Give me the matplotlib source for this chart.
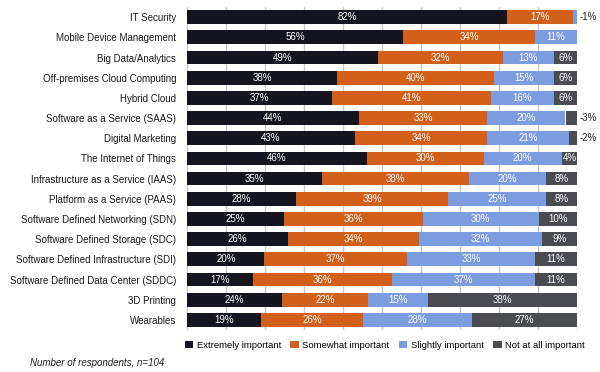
import numpy as np
import matplotlib.pyplot as plt

plt.rcParams['font.family'] = ['Liberation Sans', 'DejaVu Sans']

# Datos
categorias = ["IT Security", "Mobile Device Management", "Big Data/Analytics",
              "Off-premises Cloud Computing", "Hybrid Cloud", "Software as a Service (SAAS)",
              "Digital Marketing", "The Internet of Things", "Infrastructure as a Service (IAAS)",
              "Platform as a Service (PAAS)", "Software Defined Networking (SDN)",
              "Software Defined Storage (SDC)", "Software Defined Infrastructure (SDI)",
              "Software Defined Data Center (SDDC)", "3D Printing", "Wearables"]
extremo = [82, 56, 49, 38, 37, 44, 43, 46, 35, 28, 25, 26, 20, 17, 24, 19]
algo = [17, 34, 32, 40, 41, 33, 34, 30, 38, 39, 36, 34, 37, 36, 22, 26]
poco = [1, 11, 13, 15, 16, 20, 21, 20, 20, 25, 30, 32, 33, 37, 15, 28]
nada = [0, 0, 6, 6, 6, 3, 2, 4, 8, 8, 10, 9, 11, 11, 38, 27]
series = ["Extremely important", "Somewhat important", "Slightly important", "Not at all important"]
colores = ["#15151f", "#d2601a", "#7b9de0", "#4a4c52"]

datos = np.array([extremo, algo, poco, nada], dtype=float)
total = datos.sum(axis=0)
anchos = datos / total * 100  # las barras llegan al 100%

fig = plt.figure(figsize=(6, 3.72), dpi=100)
ax = fig.add_axes([0.312, 0.113, 0.65, 0.868])

y = np.arange(len(categorias))
izq = np.zeros(len(categorias))
for i in range(4):
    ax.barh(y, anchos[i], left=izq, height=0.68, color=colores[i], label=series[i], zorder=2)
    for j in range(len(categorias)):
        v = datos[i, j]
        if v == 0:
            continue
        if v <= 3:
            ax.text(100.5, y[j], "-%d%%" % v, va='center', ha='left', fontsize=7,
                    color='#222222', clip_on=False)
        else:
            ax.text(izq[j] + anchos[i, j] / 2, y[j], "%d%%" % v, va='center', ha='center',
                    fontsize=7, color='white')
    izq += anchos[i]

ax.set_xlim(0, 100)
ax.set_ylim(len(categorias) - 0.5, -0.5)
ax.set_yticks(y)
ax.set_yticklabels(categorias, fontsize=7, color='#1a1a1a')
ax.set_xticks(np.arange(0, 101, 10))
ax.set_xticklabels([])
ax.tick_params(length=0, pad=8)
ax.grid(axis='x', color='#c8c8c8', linewidth=1, zorder=0)
for s in ax.spines.values():
    s.set_visible(False)

fig.legend(loc='lower left', bbox_to_anchor=(0.308, 0.06), ncol=4, frameon=False,
           fontsize=6.8, handlelength=0.9, handleheight=0.9, handletextpad=0.35,
           columnspacing=1.0, borderaxespad=0, borderpad=0)
fig.text(0.05, 0.015, "Number of respondents, n=104", fontsize=7, style='italic', color='#222222')

plt.savefig("out.png", dpi=100)
